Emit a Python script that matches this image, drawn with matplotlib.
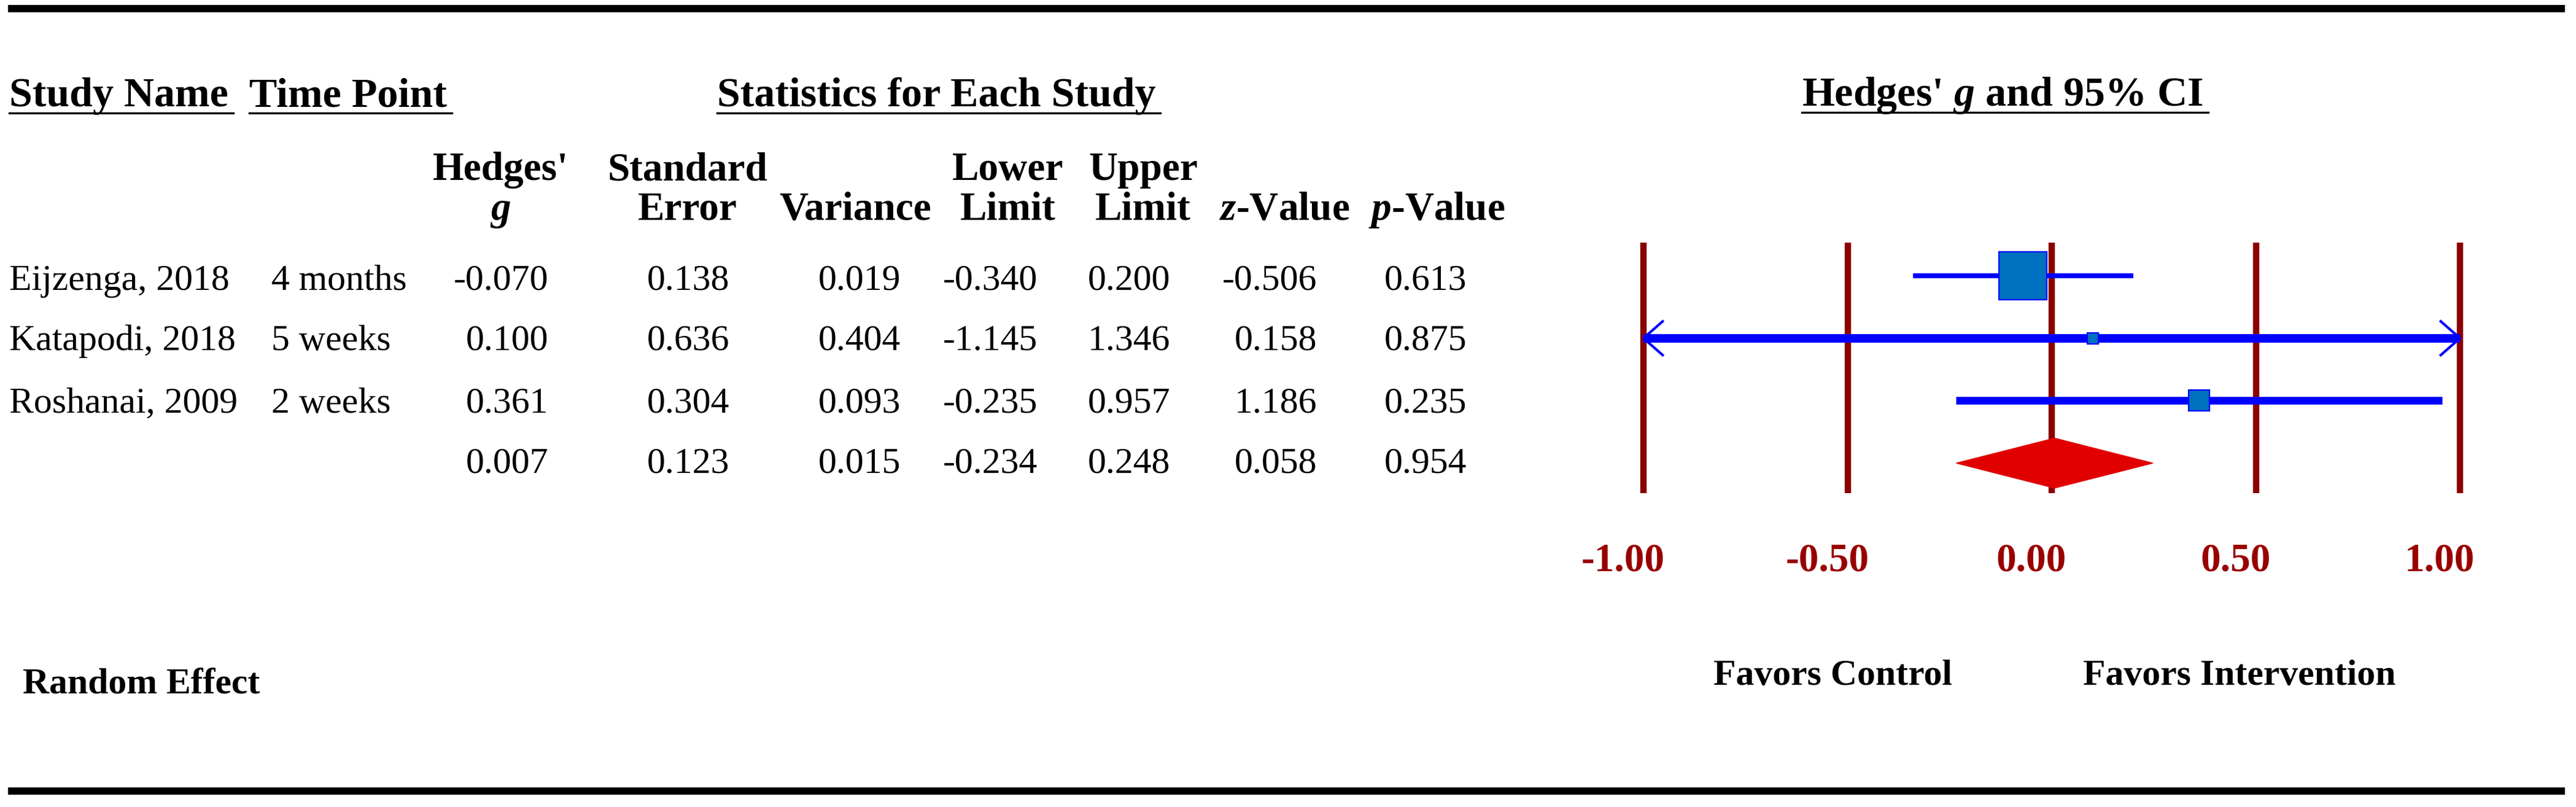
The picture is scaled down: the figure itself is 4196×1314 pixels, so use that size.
import matplotlib
matplotlib.use("Agg")
import matplotlib.pyplot as plt
from matplotlib.lines import Line2D
from matplotlib.transforms import blended_transform_factory, ScaledTranslation

plt.rcParams['font.family'] = ['Liberation Serif', 'DejaVu Serif']
plt.rcParams['mathtext.fontset'] = 'custom'
plt.rcParams['mathtext.it'] = 'Liberation Serif:italic:bold'
plt.rcParams['mathtext.rm'] = 'Liberation Serif:bold'

studies = ["Eijzenga, 2018", "Katapodi, 2018", "Roshanai, 2009"]
time_points = ["4 months", "5 weeks", "2 weeks"]
hedges_g = [-0.070, 0.100, 0.361, 0.007]
std_err = [0.138, 0.636, 0.304, 0.123]
variance = [0.019, 0.404, 0.093, 0.015]
lower = [-0.340, -1.145, -0.235, -0.234]
upper = [0.200, 1.346, 0.957, 0.248]
z_value = [-0.506, 0.158, 1.186, 0.058]
p_value = [0.613, 0.875, 0.235, 0.954]
ticks = [-1.00, -0.50, 0.00, 0.50, 1.00]

head_top = ["Hedges'", "Standard", "", "Lower", "Upper", "", ""]
head_bot = ["$g$", "Error", "Variance", "Limit", "Limit", "$z$-Value", "$p$-Value"]

# layout (pixels of the 4196x1314 picture)
W, H = 4196, 1314
head_x = [815, 1120, 1393, 1642, 1862, 2092, 2340]
col_right = [893, 1188, 1467, 1690, 1906, 2145, 2389]
row_base = [472, 570, 672, 770]
square_ms = [56, 13, 25]
ci_lw = [5.8, 10, 9]

def fx(x): return x / W
def fy(y): return 1 - y / H

fig = plt.figure(figsize=(W / 100, H / 100), dpi=100)
fig.patch.set_facecolor('white')

def put(x, y, s, size, bold=False, ha='left', color='black'):
    return fig.text(fx(x), fy(y), s, fontsize=size, ha=ha, va='baseline',
                    fontweight='bold' if bold else 'normal', color=color)

# rules
for yy in (14, 1288):
    fig.add_artist(Line2D([fx(13), fx(4178)], [fy(yy), fy(yy)], color='black', lw=8.6,
                          solid_capstyle='butt'))

# section headers
underlined = []
underlined.append(put(15, 173, "Study Name", 49, bold=True))
underlined.append(put(406, 173, "Time Point", 49, bold=True))
underlined.append(put(1525, 173, "Statistics for Each Study", 49, bold=True, ha='center'))
underlined.append(put(3262, 172, "Hedges' $g$ and 95% CI", 49, bold=True, ha='center'))

# column headers
for x, top, bot in zip(head_x, head_top, head_bot):
    if top:
        put(x, 293, top, 47, bold=True, ha='center')
    put(x, 358, bot, 47, bold=True, ha='center')

# rows
for i, (name, tp) in enumerate(zip(studies, time_points)):
    put(15, row_base[i], name, 43)
    put(442, row_base[i], tp, 43)
columns = [hedges_g, std_err, variance, lower, upper, z_value, p_value]
for xr, col in zip(col_right, columns):
    for i, v in enumerate(col):
        put(xr, row_base[i], f"{v:.3f}", 43, ha='right')

put(37, 1130, "Random Effect", 43, bold=True)
put(2791, 1115, "Favors Control", 43, bold=True)
put(3393, 1115, "Favors Intervention", 43, bold=True)

# forest plot
top_px, bot_px = 395, 803
row_c0, row_step = 449, 101.7
ax = fig.add_axes([fx(2677), fy(bot_px), (4007 - 2677) / W, (bot_px - top_px) / H])
ax.set_xlim(-1, 1)
ax.set_ylim((bot_px - row_c0) / row_step, (top_px - row_c0) / row_step)
ax.axis('off')

for t in ticks:
    ax.axvline(t, color='#8B0000', lw=7.5, solid_capstyle='butt', zorder=1, clip_on=False)

blue = '#0000FF'
for i in range(len(studies)):
    lo, hi = max(lower[i], ticks[0]), min(upper[i], ticks[-1])
    ax.plot([lo, hi], [i, i], color=blue, lw=ci_lw[i], solid_capstyle='butt', zorder=2,
            clip_on=False)
    if lower[i] < ticks[0]:
        ax.plot([lo + 0.047, lo, lo + 0.047], [i - 0.27, i, i + 0.27], color=blue, lw=3,
                zorder=2, clip_on=False)
    if upper[i] > ticks[-1]:
        ax.plot([hi - 0.047, hi, hi - 0.047], [i - 0.27, i, i + 0.27], color=blue, lw=3,
                zorder=2, clip_on=False)
    ax.plot([hedges_g[i]], [i], marker='s', ms=square_ms[i], mfc='#0070C0', mec=blue,
            mew=1.6, zorder=3, clip_on=False)

r = len(studies)
ax.fill([lower[r], hedges_g[r], upper[r], hedges_g[r]], [r, r - 0.40, r, r + 0.40],
        color='#E00000', zorder=3, clip_on=False)

trans = blended_transform_factory(ax.transData, fig.transFigure) + \
    ScaledTranslation(-0.33, 0, fig.dpi_scale_trans)
for t in ticks:
    ax.text(t, fy(930), f"{t:.2f}", transform=trans, ha='center', va='baseline',
            fontsize=47, fontweight='bold', color='#990000')

# underline the section headers
fig.canvas.draw()
renderer = fig.canvas.get_renderer()
for t in underlined:
    bb = t.get_window_extent(renderer)
    base = H - t.get_position()[1] * H
    yy = fy(base + 11)
    fig.add_artist(Line2D([fx(bb.x0), fx(bb.x1 + 8)], [yy, yy], color='black', lw=2.4))

fig.savefig("out.png", dpi=100, facecolor='white')
